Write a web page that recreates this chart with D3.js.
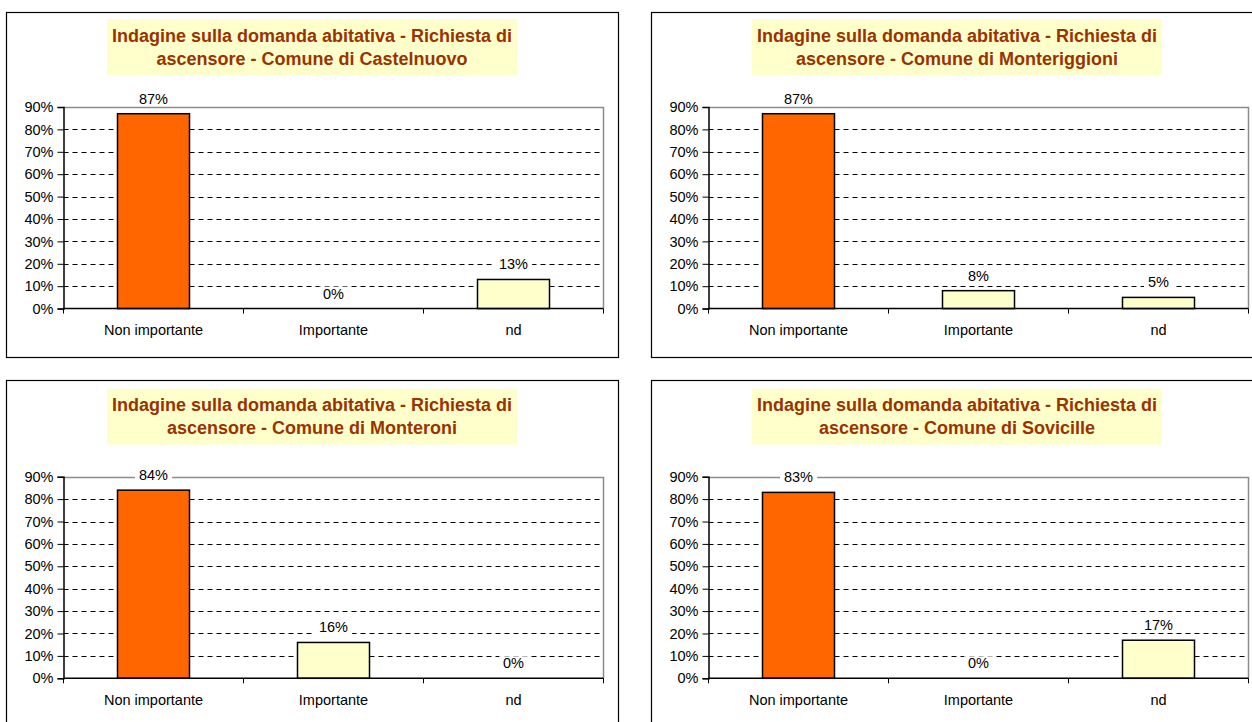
<!DOCTYPE html>
<html><head><meta charset="utf-8">
<script src="https://cdn.jsdelivr.net/npm/d3@7"></script>
<style>body{margin:0;background:#fff;}svg{display:block;font-family:"Liberation Sans",Arial,sans-serif;}</style>
</head><body>
<svg id="c" width="1252" height="722"></svg>
<script>
const categories = ["Non importante", "Importante", "nd"];
const comuni = ["Castelnuovo", "Monteriggioni", "Monteroni", "Sovicille"];
const valuesCastelnuovo = [87, 0, 13];
const valuesMonteriggioni = [87, 8, 5];
const valuesMonteroni = [84, 16, 0];
const valuesSovicille = [83, 0, 17];
const yTicks = [0, 10, 20, 30, 40, 50, 60, 70, 80, 90];
const barColors = ["#FF6600", "#FFFFCC", "#FFFFCC"];
const titleLine1 = "Indagine sulla domanda abitativa - Richiesta di";
const titleLine2Prefix = "ascensore - Comune di ";

const allValues = [valuesCastelnuovo, valuesMonteriggioni, valuesMonteroni, valuesSovicille];
const svg = d3.select("#c");

const panels = [
  {bx: 6, by: 12, cy: 12},
  {bx: 651, by: 12, cy: 12},
  {bx: 6, by: 380, cy: 381.7},
  {bx: 651, by: 380, cy: 381.7}
];

panels.forEach((p, i) => {
  const g = svg.append("g");
  g.append("rect").attr("x", p.bx + 0.5).attr("y", p.by + 0.5)
    .attr("width", 612).attr("height", 345)
    .attr("fill", "#fff").attr("stroke", "#000").attr("stroke-width", 1.2);

  const left = p.bx + 57.5, right = left + 540;
  const top = p.cy + 95, bottom = top + 201.6;
  const x = d3.scaleBand().domain(categories).range([left, right]).paddingInner(0).paddingOuter(0);
  const y = d3.scaleLinear().domain([0, 90]).range([bottom, top]);

  g.append("rect").attr("x", p.bx + 101).attr("y", p.cy + 7)
    .attr("width", 410).attr("height", 56).attr("fill", "#FFFFCC");
  const tcx = p.bx + 101 + 205;
  g.append("text").attr("x", tcx).attr("y", p.cy + 29.5).attr("text-anchor", "middle")
    .attr("font-size", 18).attr("font-weight", "bold").attr("fill", "#993300")
    .text(titleLine1);
  g.append("text").attr("x", tcx).attr("y", p.cy + 52.5).attr("text-anchor", "middle")
    .attr("font-size", 18).attr("font-weight", "bold").attr("fill", "#993300")
    .text(titleLine2Prefix + comuni[i]);

  g.selectAll("line.grid").data(yTicks.filter(t => t > 0 && t < 90)).enter().append("line")
    .attr("x1", left).attr("x2", right)
    .attr("y1", d => Math.round(y(d)) + 0.5).attr("y2", d => Math.round(y(d)) + 0.5)
    .attr("stroke", "#000").attr("stroke-width", 1).attr("stroke-dasharray", "5,4");
  g.append("path")
    .attr("d", `M${left},${Math.round(top) + 0.5}H${right}V${bottom}`)
    .attr("fill", "none").attr("stroke", "#8c8c8c").attr("stroke-width", 1.5);

  const vals = allValues[i];
  const data = categories.map((c, k) => ({c, v: vals[k], k}));
  const bw = 72;
  g.selectAll("rect.bar").data(data.filter(d => d.v > 0)).enter().append("rect")
    .attr("x", d => x(d.c) + x.bandwidth() / 2 - bw / 2)
    .attr("y", d => y(d.v))
    .attr("width", bw).attr("height", d => bottom - y(d.v))
    .attr("fill", d => barColors[d.k]).attr("stroke", "#000").attr("stroke-width", 1.5);

  const ya = d3.axisLeft(y).tickValues(yTicks).tickFormat(d => d + "%").tickSize(6).tickPadding(4);
  const yg = g.append("g").attr("transform", `translate(${left},0)`).call(ya);
  yg.select(".domain").attr("stroke", "#000").attr("stroke-width", 1.5);
  yg.selectAll(".tick line").attr("stroke", "#000");
  yg.selectAll("text").attr("font-size", 14.5).attr("fill", "#000").attr("font-family", "Liberation Sans, Arial, sans-serif");

  g.append("line").attr("x1", left).attr("x2", right).attr("y1", bottom).attr("y2", bottom)
    .attr("stroke", "#000").attr("stroke-width", 1.5);
  const bounds = [0, 1, 2, 3].map(k => left + k * x.step());
  g.selectAll("line.xt").data(bounds).enter().append("line")
    .attr("x1", d => d).attr("x2", d => d).attr("y1", bottom).attr("y2", bottom + 5)
    .attr("stroke", "#000").attr("stroke-width", 1);
  g.selectAll("text.cat").data(categories).enter().append("text")
    .attr("x", d => x(d) + x.bandwidth() / 2).attr("y", bottom + 26.5)
    .attr("text-anchor", "middle").attr("font-size", 14.5).attr("fill", "#000")
    .text(d => d);

  data.forEach(d => {
    const cx = x(d.c) + x.bandwidth() / 2;
    const cy = y(d.v) - 15;
    const t = g.append("text").attr("x", cx).attr("y", cy + 5)
      .attr("text-anchor", "middle").attr("font-size", 14.5).attr("fill", "#000")
      .text(d.v + "%");
    const bb = t.node().getBBox();
    g.insert("rect", () => t.node())
      .attr("x", bb.x - 4).attr("y", bb.y + 1).attr("width", bb.width + 8).attr("height", bb.height - 2)
      .attr("fill", "#fff");
  });
});
</script>
</body></html>
